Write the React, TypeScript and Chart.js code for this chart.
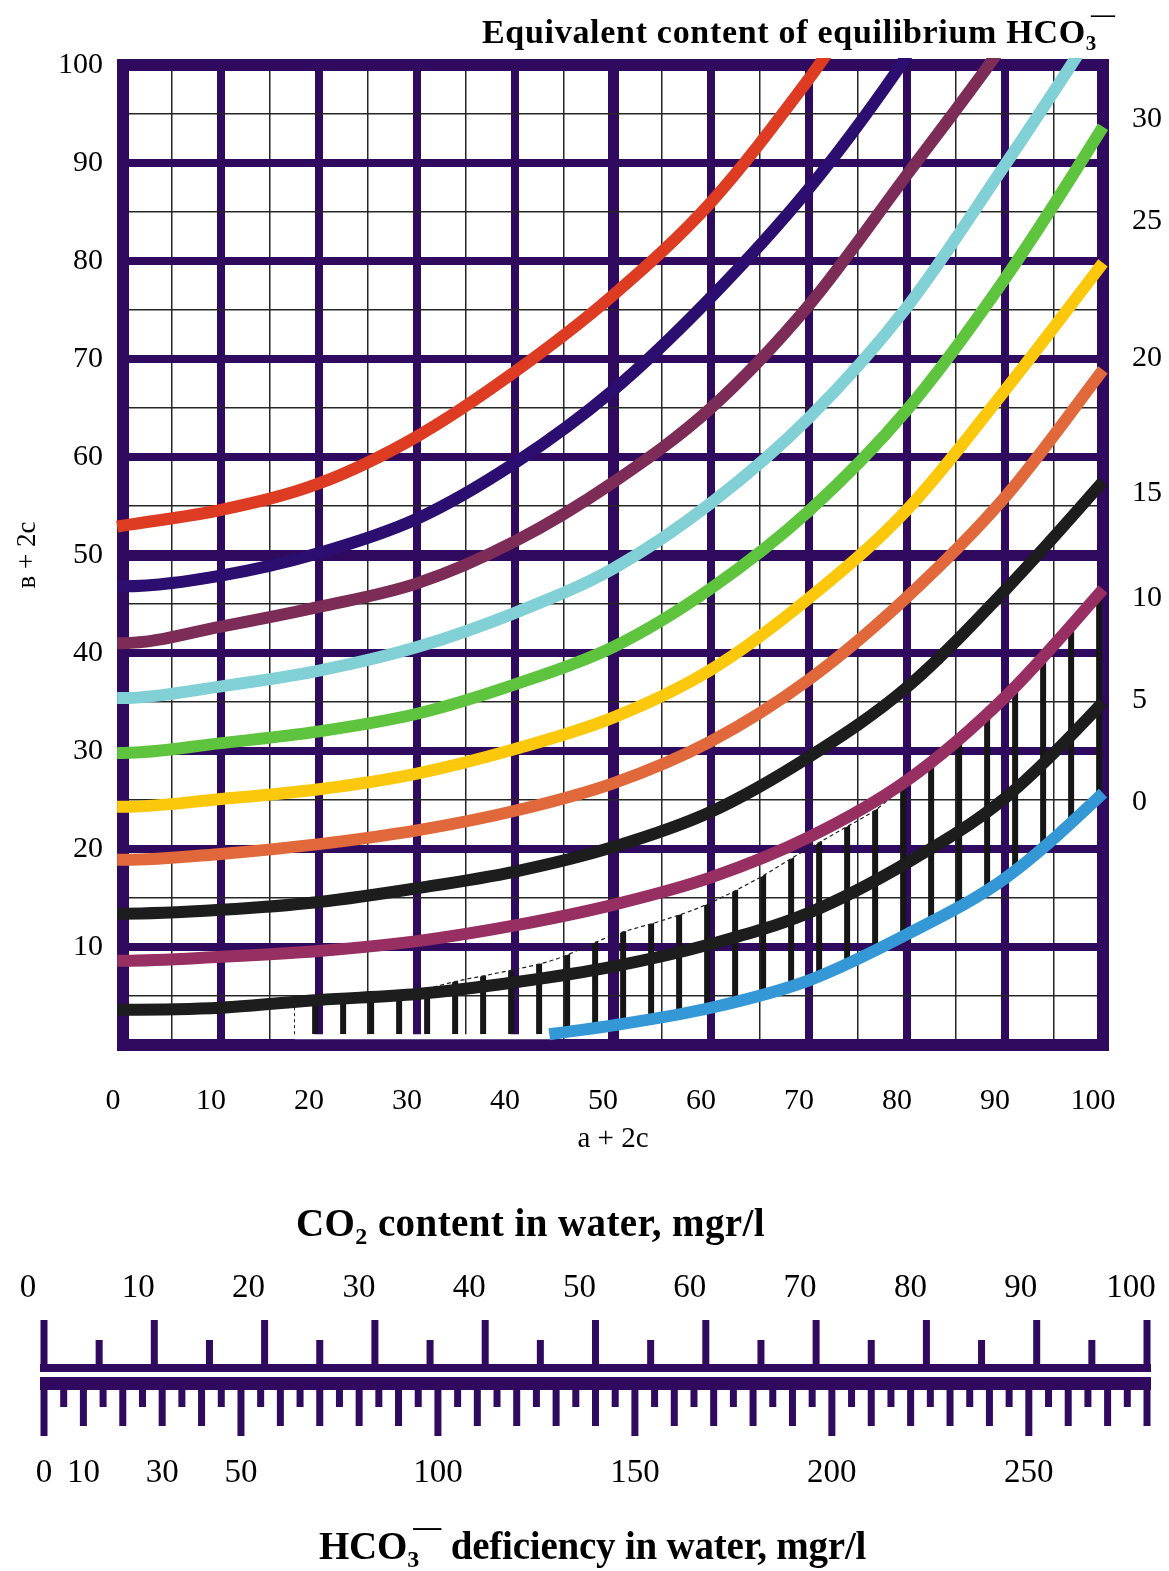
import React, { useEffect, useRef } from 'react';
import { Chart, registerables } from 'chart.js';

Chart.register(...registerables);

type Pt = [number, number];

// ---------------- main nomogram: x = a + 2c, y = в + 2c ----------------
// one curve per equivalent content of equilibrium HCO3- (top to bottom)
const curve50: Pt[] = [[-0.6, 52.9], [0, 53], [10, 54.6], [20, 57.3], [30, 62.1], [40, 68.7], [50, 76.5], [60, 86], [70, 98.6], [72, 101.4]];
const curve45: Pt[] = [[-0.6, 46.8], [0, 46.8], [10, 47.9], [20, 50.2], [30, 53.7], [40, 59.4], [50, 66.8], [60, 76.3], [70, 87.4], [78.9, 99.3], [80, 101]];
const curve40: Pt[] = [[-0.6, 41], [0, 41], [10, 42.7], [20, 44.7], [30, 47.1], [40, 51.4], [50, 57.4], [60, 65], [70, 75.5], [80, 88.8], [88, 99.5], [89.2, 101.2]];
const curve35: Pt[] = [[-0.6, 35.4], [0, 35.4], [10, 36.6], [20, 38.2], [30, 40.6], [40, 44.1], [50, 48.6], [60, 55.3], [70, 64], [80, 75.3], [90, 89.8], [96.3, 99.3], [97.4, 101]];
const curve30: Pt[] = [[-0.6, 29.8], [0, 29.8], [10, 30.8], [20, 32], [30, 33.8], [40, 36.8], [50, 40.6], [60, 46.6], [70, 54.5], [80, 64.8], [90, 78.2], [100, 93.7], [100.6, 94.7]];
const curve25: Pt[] = [[-0.6, 24.3], [0, 24.3], [10, 25.1], [20, 26.1], [30, 27.7], [40, 30.2], [50, 33.4], [60, 38.3], [70, 45.6], [80, 54.6], [90, 66.8], [100, 79.8], [100.6, 80.6]];
const curve20: Pt[] = [[-0.6, 18.9], [0, 18.9], [10, 19.5], [20, 20.5], [30, 21.9], [40, 23.9], [50, 26.7], [60, 31], [70, 37.3], [80, 45.7], [90, 55.9], [100, 68.9], [100.6, 69.7]];
const curve15: Pt[] = [[-0.6, 13.4], [0, 13.4], [10, 13.8], [20, 14.6], [30, 16], [40, 17.7], [50, 20.2], [60, 23.8], [70, 29.4], [80, 36.5], [90, 46.4], [100, 57.5], [100.6, 58.2]];
const curve10: Pt[] = [[-0.6, 8.6], [0, 8.6], [10, 9], [20, 9.6], [30, 10.6], [40, 12.2], [50, 14.3], [60, 17.1], [70, 21.2], [80, 27], [90, 35.5], [100, 46.5], [100.6, 47.2]];
const curve5: Pt[] = [[-0.6, 3.6], [0, 3.6], [10, 3.8], [20, 4.6], [30, 5.2], [40, 6.4], [50, 8], [60, 10.3], [70, 13.5], [80, 18.6], [90, 25.2], [100, 35], [100.6, 35.7]];
const curve0: Pt[] = [[43.5, 1.1], [50, 2], [60, 3.8], [70, 6.6], [80, 11.3], [90, 17], [100, 25.7], [100.6, 26.3]];

const curveSeries = [curve50, curve45, curve40, curve35, curve30, curve25, curve20, curve15, curve10, curve5, curve0];
const curveNames = ['50', '45', '40', '35', '30', '25', '20', '15', '10', '5', '0'];
const curveColors = ['#dd3b22', '#2b0e70', '#7c2c56', '#80d0d6', '#5ec43e', '#fcc80c', '#e0683a', '#1d1d1d', '#982f63', '#1d1d1d', '#3498d6'];

// right-hand labels of the curves (HCO3- equivalent content)
const rightTickValues = [94.5, 84.1, 70.1, 56.3, 45.6, 35.2, 24.8];
const rightTickLabels = ['30', '25', '20', '15', '10', '5', '0'];

// hatched zone
const hatchTop: Pt[] = [[17.5, 4.3], [25, 4.8], [30, 5.5], [34, 6.5], [38, 7.3], [44, 8.7], [50, 11.2], [55, 12.7], [59, 14.1], [65, 17.1], [68.8, 19.4], [73.2, 21.9], [77.6, 24.6], [80, 27], [90, 35.5], [99.9, 46.4]];
const hatchBottom: Pt[] = [[17.5, 1.1], [43.5, 1.1], [50, 2], [60, 3.8], [70, 6.6], [80, 11.3], [90, 17], [99.9, 25.6]];
const hatchLeftEdge: Pt[] = [[17.5, 1.1], [17.5, 4.4]];
const whiteBand: Pt[] = [[17.5, 0.85], [44, 0.85]];
const hatchStart = 19.6;

// ---------------- conversion scale ----------------
const co2Min = 0;
const co2Max = 100;
const co2Step = 5;
const deficiencyMin = 0;
const deficiencyMax = 280;
const deficiencyStep = 5;
const deficiencyLabels = [0, 10, 30, 50, 100, 150, 200, 250];

const PURPLE = '#2f0a5e';
const FAMILY = '"Liberation Serif", "Times New Roman", serif';

type Run = { t: string; kind?: 'sub' | 'bar' };

function drawRichText(ctx: CanvasRenderingContext2D, runs: Run[], x: number, base: number, size: number, fitWidth: number) {
  const mainFont = `bold ${size}px ${FAMILY}`;
  const subFont = `bold ${Math.round(size * 0.62)}px ${FAMILY}`;
  const barSize = Math.round(size * 0.72);
  const barFont = `bold ${barSize}px ${FAMILY}`;
  const c = ctx as any;
  ctx.save();
  ctx.fillStyle = '#000';
  ctx.textAlign = 'left';
  ctx.textBaseline = 'alphabetic';
  c.letterSpacing = '0px';
  let natural = 0;
  let count = 0;
  const widths: number[] = [];
  for (const r of runs) {
    if (r.kind === 'bar') {
      ctx.font = barFont;
      const w = ctx.measureText(r.t).width;
      widths.push(w);
      continue;
    }
    ctx.font = r.kind === 'sub' ? subFont : mainFont;
    const w = ctx.measureText(r.t).width;
    widths.push(w);
    natural += w;
    count += r.t.length;
  }
  const spacing = count > 0 ? (fitWidth - natural) / count : 0;
  let cx = x;
  let subStart = x;
  let subEnd = x;
  runs.forEach((r, i) => {
    if (r.kind === 'bar') {
      c.letterSpacing = '0px';
      ctx.font = barFont;
      const bx = (subStart + subEnd) / 2;
      ctx.fillText(r.t, bx, base - size * 0.62);
      cx = Math.max(cx, bx + widths[i]);
      return;
    }
    const sub = r.kind === 'sub';
    ctx.font = sub ? subFont : mainFont;
    c.letterSpacing = `${spacing}px`;
    ctx.fillText(r.t, cx, sub ? base + size * 0.2 : base);
    const w = widths[i] + spacing * r.t.length;
    if (sub) { subStart = cx; subEnd = cx + widths[i]; }
    cx += w;
  });
  ctx.restore();
}

const mainTitleRuns: Run[] = [{ t: 'Equivalent content of equilibrium HCO' }, { t: '3', kind: 'sub' }, { t: '—', kind: 'bar' }];
const co2TitleRuns: Run[] = [{ t: 'CO' }, { t: '2', kind: 'sub' }, { t: ' content in water, mgr/l' }];
const defTitleRuns: Run[] = [{ t: 'HCO' }, { t: '3', kind: 'sub' }, { t: '—', kind: 'bar' }, { t: ' deficiency in water, mgr/l' }];

function gridWidth(ctx: any) {
  const v = ctx.tick ? ctx.tick.value : 1;
  if (v === 0 || v === 100) return 12;
  if (v === 50) return 11;
  if (v % 10 === 0) return 8;
  return 1.5;
}
function gridColor(ctx: any) {
  const v = ctx.tick ? ctx.tick.value : 1;
  return v % 10 === 0 ? PURPLE : '#262626';
}

export default function App() {
  const mainRef = useRef<HTMLCanvasElement>(null);
  const scaleRef = useRef<HTMLCanvasElement>(null);

  useEffect(() => {
    Chart.defaults.font.family = FAMILY;
    Chart.defaults.color = '#000';

    const tile = document.createElement('canvas');
    tile.width = 28;
    tile.height = 4;
    const tg = tile.getContext('2d')!;
    tg.fillStyle = '#161616';
    tg.fillRect(0, 0, 6, 4);
    const hatchPattern = tg.createPattern(tile, 'repeat')!;

    const framePlugin = {
      id: 'frameAndHatch',
      beforeDatasetsDraw(chart: any) {
        const x = chart.scales.x;
        const p0 = x.getPixelForValue(hatchStart);
        hatchPattern.setTransform(new DOMMatrix([1, 0, 0, 1, p0 - 3, 0]));
        const a = chart.chartArea;
        const ctx = chart.ctx;
        ctx.save();
        ctx.strokeStyle = PURPLE;
        ctx.lineWidth = 12;
        ctx.lineJoin = 'miter';
        ctx.strokeRect(a.left, a.top, a.right - a.left, a.bottom - a.top);
        ctx.restore();
      },
      afterDraw(chart: any) {
        drawRichText(chart.ctx, mainTitleRuns, 482, 43, 34, 615);
      },
    };

    const curveDatasets = curveSeries.map((pts, i) => ({
      label: curveNames[i],
      data: pts.map(([x, y]) => ({ x, y })),
      showLine: true,
      borderColor: curveColors[i],
      backgroundColor: curveColors[i],
      borderWidth: 12,
      pointRadius: 0,
      cubicInterpolationMode: 'monotone',
      clip: 7,
      fill: false,
    }));

    const main = new Chart(mainRef.current!, {
      type: 'scatter',
      data: {
        datasets: [
          ...curveDatasets,
          {
            label: 'edge',
            data: hatchLeftEdge.map(([x, y]) => ({ x, y })),
            showLine: true,
            borderColor: '#222',
            borderWidth: 1,
            borderDash: [3, 3],
            pointRadius: 0,
            fill: false,
          },
          {
            label: 'band',
            data: whiteBand.map(([x, y]) => ({ x, y })),
            showLine: true,
            borderColor: '#ffffff',
            borderWidth: 5,
            pointRadius: 0,
            fill: false,
          },
          {
            label: 'hatchTop',
            data: hatchTop.map(([x, y]) => ({ x, y })),
            showLine: true,
            borderColor: '#222',
            borderWidth: 1.2,
            borderDash: [4, 3],
            pointRadius: 0,
            cubicInterpolationMode: 'monotone',
            backgroundColor: hatchPattern,
            fill: '+1',
          },
          {
            label: 'hatchBottom',
            data: hatchBottom.map(([x, y]) => ({ x, y })),
            showLine: true,
            borderWidth: 0,
            borderColor: 'rgba(0,0,0,0)',
            pointRadius: 0,
            cubicInterpolationMode: 'monotone',
            fill: false,
          },
        ] as any,
      },
      options: {
        responsive: false,
        animation: false,
        events: [],
        layout: { padding: { top: 65, left: 0, right: 0, bottom: 0 } },
        plugins: { legend: { display: false }, tooltip: { enabled: false }, title: { display: false } },
        scales: {
          x: {
            type: 'linear',
            min: 0,
            max: 100,
            ticks: {
              stepSize: 5,
              autoSkip: false,
              maxRotation: 0,
              padding: 38,
              labelOffset: -10,
              font: { size: 30 },
              callback: (v: any) => (Number(v) % 10 === 0 ? String(v) : ''),
            },
            grid: { drawTicks: false, lineWidth: gridWidth, color: gridColor },
            border: { display: false },
            title: { display: true, text: 'a + 2c', font: { size: 29 }, padding: { top: 0, bottom: 13 } },
            afterFit: (s: any) => { s.height = 125; s.paddingLeft = 0; s.paddingRight = 0; },
          },
          y: {
            type: 'linear',
            min: 0,
            max: 100,
            ticks: {
              stepSize: 5,
              autoSkip: false,
              padding: 20,
              font: { size: 30 },
              callback: (v: any) => (Number(v) % 10 === 0 && Number(v) !== 0 ? String(v) : ''),
            },
            grid: { drawTicks: false, lineWidth: gridWidth, color: gridColor },
            border: { display: false },
            title: { display: true, text: 'в + 2c', font: { size: 27 }, padding: { top: 12, bottom: 0 } },
            afterFit: (s: any) => { s.width = 123; s.paddingTop = 0; s.paddingBottom = 0; },
          },
          y2: {
            type: 'linear',
            position: 'right',
            min: 0,
            max: 100,
            afterBuildTicks: (s: any) => { s.ticks = rightTickValues.map((value) => ({ value })); },
            ticks: {
              autoSkip: false,
              padding: 29,
              font: { size: 30 },
              callback: (_v: any, i: number) => rightTickLabels[i] ?? '',
            },
            grid: { display: false, drawTicks: false },
            border: { display: false },
            afterFit: (s: any) => { s.width = 66; s.paddingTop = 0; s.paddingBottom = 0; },
          },
        },
      } as any,
      plugins: [framePlugin],
    });

    const marksPlugin = {
      id: 'scaleMarks',
      afterDraw(chart: any) {
        const ctx = chart.ctx;
        const a = chart.chartArea;
        const top = chart.scales.co2;
        const bot = chart.scales.def;
        ctx.save();
        ctx.fillStyle = PURPLE;
        const baseTop = a.top + 44;
        const t0 = top.getPixelForValue(co2Min);
        const t1 = top.getPixelForValue(co2Max);
        ctx.fillRect(t0 - 4, baseTop, t1 - t0 + 8, 8);
        for (const t of top.ticks) {
          const px = top.getPixelForValue(t.value);
          const len = t.value % 10 === 0 ? 44 : 24;
          ctx.fillRect(px - 3.5, baseTop - len, 7, len);
        }
        const baseBot = a.top + 57;
        const b0 = bot.getPixelForValue(deficiencyMin);
        const b1 = bot.getPixelForValue(deficiencyMax);
        ctx.fillRect(b0 - 4, baseBot, b1 - b0 + 8, 13);
        for (const t of bot.ticks) {
          const px = bot.getPixelForValue(t.value);
          const len = t.value % 50 === 0 ? 46 : t.value % 10 === 0 ? 36 : 17;
          ctx.fillRect(px - 3.5, baseBot + 13, 7, len);
        }
        ctx.restore();
        drawRichText(ctx, co2TitleRuns, 296, 66, 39, 469);
        drawRichText(ctx, defTitleRuns, 319, 389, 39, 525);
      },
    };

    const scale = new Chart(scaleRef.current!, {
      type: 'scatter',
      data: { datasets: [] },
      options: {
        responsive: false,
        animation: false,
        events: [],
        layout: { padding: { left: 44, right: 22, top: 0, bottom: 0 } },
        plugins: { legend: { display: false }, tooltip: { enabled: false } },
        scales: {
          co2: {
            type: 'linear',
            axis: 'x',
            position: 'top',
            min: co2Min,
            max: co2Max,
            ticks: {
              stepSize: co2Step,
              autoSkip: false,
              maxRotation: 0,
              padding: 12,
              labelOffset: -16,
              font: { size: 33 },
              callback: (v: any) => (Number(v) % 10 === 0 ? String(v) : ''),
            },
            grid: { display: false, drawTicks: false },
            border: { display: false },
            afterFit: (s: any) => { s.height = 150; s.paddingLeft = 0; s.paddingRight = 0; },
          },
          def: {
            type: 'linear',
            axis: 'x',
            position: 'bottom',
            min: deficiencyMin,
            max: deficiencyMax,
            ticks: {
              stepSize: deficiencyStep,
              autoSkip: false,
              maxRotation: 0,
              padding: 18,
              font: { size: 33 },
              callback: (v: any) => (deficiencyLabels.includes(Number(v)) ? String(v) : ''),
            },
            grid: { display: false, drawTicks: false },
            border: { display: false },
            afterFit: (s: any) => { s.height = 135; s.paddingLeft = 0; s.paddingRight = 0; },
          },
          y: { display: false, min: 0, max: 1 },
        },
      } as any,
      plugins: [marksPlugin],
    });

    return () => {
      main.destroy();
      scale.destroy();
    };
  }, []);

  return (
    <div style={{ position: 'absolute', left: 0, top: 0, width: 1169, height: 1571, background: '#ffffff' }}>
      <canvas ref={mainRef} width={1169} height={1170} style={{ position: 'absolute', left: 0, top: 0, display: 'block' }} />
      <canvas ref={scaleRef} width={1169} height={401} style={{ position: 'absolute', left: 0, top: 1170, display: 'block' }} />
    </div>
  );
}
